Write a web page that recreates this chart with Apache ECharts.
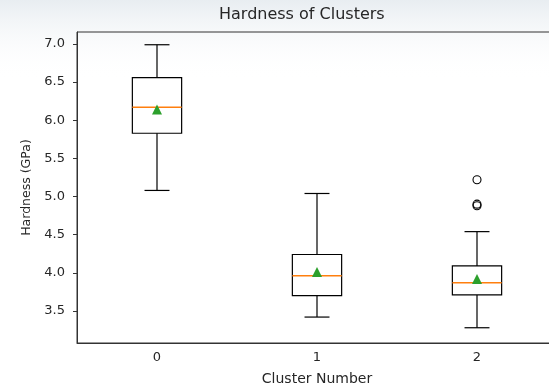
<!DOCTYPE html>
<html>
<head>
<meta charset="utf-8">
<script src="https://cdn.jsdelivr.net/npm/echarts@6/dist/echarts.min.js"></script>
<style>
  html, body { margin: 0; padding: 0; background: #fff; }
  #chart { width: 549px; height: 386px; }
</style>
</head>
<body>
<div id="chart"></div>
<script>
// values
const categories = ['0', '1', '2']
const whiskerLow = [5.08, 3.42, 3.28]
const q1 = [5.83, 3.70, 3.71]
const median = [6.17, 3.96, 3.87]
const q3 = [6.56, 4.24, 4.09]
const whiskerHigh = [6.99, 5.04, 4.54]
const means = [6.14, 4.01, 3.92]
const outliers = [[2, 5.22], [2, 4.90], [2, 4.88]]
const yTicks = [3.5, 4.0, 4.5, 5.0, 5.5, 6.0, 6.5, 7.0]

const font = 'DejaVu Sans'
const ink = '#262626'

const chart = echarts.init(document.getElementById('chart'))

const boxData = categories.map((c, i) => [i, whiskerLow[i], q1[i], median[i], q3[i], whiskerHigh[i]])

function renderBox(params, api) {
  const i = api.value(0)
  const band = api.size([1, 0])[0]
  const half = band * 0.154
  const cap = band * 0.078
  const pLow = api.coord([i, api.value(1)])
  const pQ1 = api.coord([i, api.value(2)])
  const pMed = api.coord([i, api.value(3)])
  const pQ3 = api.coord([i, api.value(4)])
  const pHigh = api.coord([i, api.value(5)])
  const x = pMed[0]
  const line = { stroke: '#000', lineWidth: 1.2 }
  return {
    type: 'group',
    children: [
      { type: 'line', shape: { x1: x, y1: pQ3[1], x2: x, y2: pHigh[1] }, style: line },
      { type: 'line', shape: { x1: x, y1: pQ1[1], x2: x, y2: pLow[1] }, style: line },
      { type: 'line', shape: { x1: x - cap, y1: pHigh[1], x2: x + cap, y2: pHigh[1] }, style: line },
      { type: 'line', shape: { x1: x - cap, y1: pLow[1], x2: x + cap, y2: pLow[1] }, style: line },
      { type: 'rect', shape: { x: x - half, y: pQ3[1], width: half * 2, height: pQ1[1] - pQ3[1] },
        style: { fill: 'none', stroke: '#000', lineWidth: 1.2 } },
      { type: 'line', shape: { x1: x - half, y1: pMed[1], x2: x + half, y2: pMed[1] },
        style: { stroke: '#ff7f0e', lineWidth: 1.5 } }
    ]
  }
}

const option = {
  animation: false,
  backgroundColor: '#fff',
  textStyle: { fontFamily: font },
  graphic: [
    {
      type: 'rect', z: -10, silent: true,
      shape: { x: 0, y: 0, width: 549, height: 80 },
      style: {
        fill: new echarts.graphic.LinearGradient(0, 0, 0, 1, [
          { offset: 0, color: '#e8edf1' },
          { offset: 1, color: 'rgba(255,255,255,0)' }
        ])
      }
    },
    {
      type: 'text', left: 219, top: 7,
      style: { text: 'Hardness of Clusters', font: '16px "DejaVu Sans"', fill: ink }
    }
  ],
  grid: {
    left: 77, top: 32, width: 480, height: 311,
    outerBoundsMode: 'none', containLabel: false,
    show: true, borderColor: '#333', borderWidth: 1, backgroundColor: 'transparent'
  },
  xAxis: {
    type: 'category',
    data: categories,
    name: 'Cluster Number',
    nameLocation: 'middle',
    nameGap: 29,
    nameTextStyle: { color: ink, fontSize: 14, fontFamily: font },
    axisLine: { lineStyle: { color: '#333', width: 1 } },
    axisTick: { alignWithLabel: true, length: 4, inside: false, lineStyle: { color: '#333' } },
    axisLabel: { color: ink, fontSize: 13, fontFamily: font, margin: 8 },
    splitLine: { show: false }
  },
  yAxis: {
    type: 'value',
    min: 3.08,
    max: 7.157,
    name: 'Hardness (GPa)',
    nameLocation: 'middle',
    nameGap: 44,
    nameTextStyle: { color: ink, fontSize: 12.5, fontFamily: font },
    axisLine: { show: true, lineStyle: { color: '#333', width: 1 } },
    axisTick: { show: true, length: 4, customValues: yTicks, lineStyle: { color: '#333' } },
    axisLabel: {
      color: ink, fontSize: 13, fontFamily: font, margin: 12,
      customValues: yTicks,
      formatter: v => v.toFixed(1)
    },
    splitLine: { show: false }
  },
  series: [
    {
      type: 'custom',
      renderItem: renderBox,
      data: boxData,
      encode: { x: 0, y: [1, 2, 3, 4, 5] },
      z: 2
    },
    {
      type: 'scatter',
      data: means.map((m, i) => [i, m]),
      symbol: 'triangle',
      symbolSize: 10,
      itemStyle: { color: '#2ca02c', opacity: 1 },
      z: 4
    },
    {
      type: 'scatter',
      data: outliers,
      symbol: 'circle',
      symbolSize: 8,
      itemStyle: { color: 'transparent', borderColor: '#000', borderWidth: 1.1, opacity: 1 },
      z: 3
    }
  ]
}

chart.setOption(option)
</script>
</body>
</html>
